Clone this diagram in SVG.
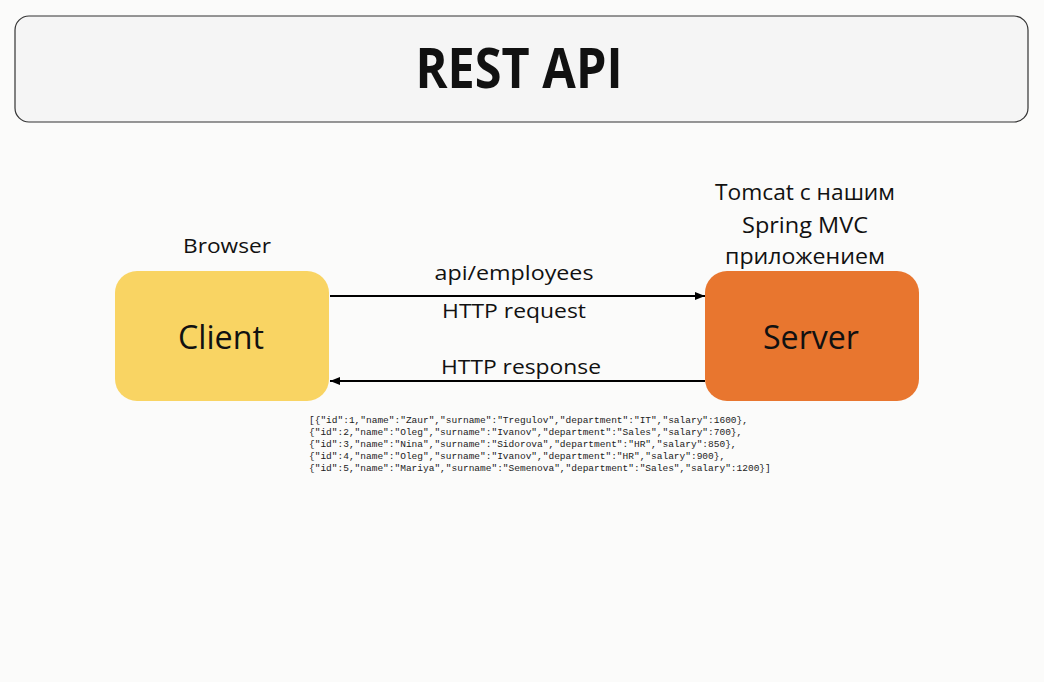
<svg xmlns="http://www.w3.org/2000/svg" width="1044" height="682" viewBox="0 0 1044 682">
  <defs>
    <marker id="arr" viewBox="0 0 10 10" refX="10" refY="5" markerWidth="10" markerHeight="10" markerUnits="userSpaceOnUse" orient="auto">
      <path d="M0,1 L10,5 L0,9 Z" fill="#000"/>
    </marker>
    <style>
      .lbl { font-family: "Open Sans", "Noto Sans", sans-serif; fill: #111; text-anchor: middle; }
      .json { font-family: "Liberation Mono", "DejaVu Sans Mono", monospace; font-size: 9.5px; fill: #222; }
      .conn { stroke: #000; stroke-width: 2; fill: none; }
    </style>
  </defs>
  <rect width="1044" height="682" fill="#fbfbfa"/>

  <g id="title">
    <rect x="15" y="16" width="1013" height="106" rx="14" fill="#f5f5f5" stroke="#333" stroke-width="1.2"/>
    <text x="519" y="88" class="lbl" font-size="55" font-weight="bold" textLength="207" lengthAdjust="spacingAndGlyphs">REST API</text>
  </g>

  <g id="client">
    <rect x="115" y="271" width="214" height="130" rx="22" fill="#f9d463"/>
    <text x="221" y="349" class="lbl" font-size="33" textLength="86" lengthAdjust="spacingAndGlyphs">Client</text>
    <text x="227" y="253" class="lbl" font-size="20.5" textLength="88" lengthAdjust="spacingAndGlyphs">Browser</text>
  </g>

  <g id="server">
    <rect x="705" y="271" width="214" height="130" rx="22" fill="#e8762f"/>
    <text x="811" y="349" class="lbl" font-size="33" textLength="96" lengthAdjust="spacingAndGlyphs">Server</text>
    <text x="805" y="200" class="lbl" font-size="21" textLength="180" lengthAdjust="spacingAndGlyphs">Tomcat с нашим</text>
    <text x="805" y="233" class="lbl" font-size="21" textLength="126" lengthAdjust="spacingAndGlyphs">Spring MVC</text>
    <text x="805" y="264" class="lbl" font-size="21" textLength="160" lengthAdjust="spacingAndGlyphs">приложением</text>
  </g>

  <g id="connectors">
    <line x1="330" y1="296" x2="705" y2="296" class="conn" marker-end="url(#arr)"/>
    <line x1="705" y1="381" x2="330" y2="381" class="conn" marker-end="url(#arr)"/>
    <text x="514" y="280" class="lbl" font-size="20.5" textLength="159" lengthAdjust="spacingAndGlyphs">api/employees</text>
    <text x="514" y="318" class="lbl" font-size="20.5" textLength="144" lengthAdjust="spacingAndGlyphs">HTTP request</text>
    <text x="521" y="374" class="lbl" font-size="20.5" textLength="160" lengthAdjust="spacingAndGlyphs">HTTP response</text>
  </g>

  <g id="response-body">
    <text x="309" y="423" class="json">[{"id":1,"name":"Zaur","surname":"Tregulov","department":"IT","salary":1600},</text>
    <text x="309" y="435" class="json">{"id":2,"name":"Oleg","surname":"Ivanov","department":"Sales","salary":700},</text>
    <text x="309" y="447" class="json">{"id":3,"name":"Nina","surname":"Sidorova","department":"HR","salary":850},</text>
    <text x="309" y="459" class="json">{"id":4,"name":"Oleg","surname":"Ivanov","department":"HR","salary":900},</text>
    <text x="309" y="471" class="json">{"id":5,"name":"Mariya","surname":"Semenova","department":"Sales","salary":1200}]</text>
  </g>
</svg>
